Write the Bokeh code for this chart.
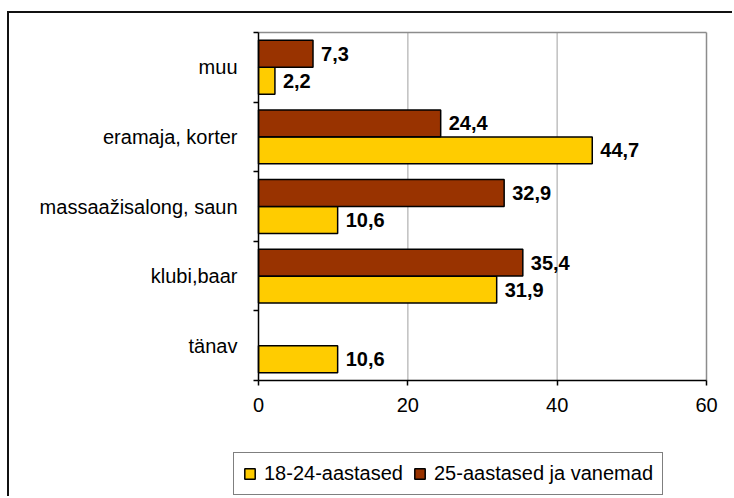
import numpy as np
from bokeh.plotting import figure
from bokeh.models import ColumnDataSource, FixedTicker, Legend, LegendItem
from bokeh.transform import dodge
from bokeh.core.properties import value
from bokeh.embed import file_html
from bokeh.resources import INLINE

# ---- data (top to bottom as in the chart) ----
categories = ["muu", "eramaja, korter", "massaažisalong, saun", "klubi,baar", "tänav"]
young = [2.2, 44.7, 10.6, 31.9, 10.6]          # 18-24-aastased
older = [7.3, 24.4, 32.9, 35.4, None]          # 25-aastased ja vanemad
series_names = ["18-24-aastased", "25-aastased ja vanemad"]
x_ticks = [0, 20, 40, 60]

FONT = "Liberation Sans"
YELLOW = "#FFCC00"
BROWN = "#993300"

n = len(categories)
ypos = [n - 1 - i for i in range(n)]  # top category highest
y_lo, y_hi = -0.5, n - 0.5
x_lo, x_hi = x_ticks[0], x_ticks[-1]

def fmt(v):
    return ("%.1f" % v).replace(".", ",")

src_y = ColumnDataSource(dict(y=ypos, v=young, lab=[fmt(v) for v in young]))
older_rows = [(y, v) for y, v in zip(ypos, older) if v is not None]
src_o = ColumnDataSource(dict(y=[r[0] for r in older_rows], v=[r[1] for r in older_rows],
                              lab=[fmt(r[1]) for r in older_rows]))

# ---- layout: the frame is the whole canvas; axes are placed inside it ----
W, H = 725, 485
PA_L, PA_R, PA_T, PA_B = 249, 697, 19, 367   # plot-area box in canvas pixels
ppx = (PA_R - PA_L) / (x_hi - x_lo)
ppy = (PA_B - PA_T) / (y_hi - y_lo)
x_range = (x_lo - PA_L / ppx, x_hi + (W - PA_R) / ppx)
y_range = (y_lo - (H - PA_B) / ppy, y_hi + PA_T / ppy)

p = figure(width=W, height=H, output_backend="svg", toolbar_location=None,
           x_range=x_range, y_range=y_range,
           min_border_left=0, min_border_right=0, min_border_top=0, min_border_bottom=0)
p.styles = {"border-top": "2px solid #111", "border-left": "2px solid #111",
            "margin-left": "7px", "margin-top": "11px"}

# grid lines and plot-area border, kept to the plot area
grid_x = x_ticks[1:-1]
p.segment(x0=grid_x, x1=grid_x, y0=[y_lo] * len(grid_x), y1=[y_hi] * len(grid_x),
          line_color="#c0c0c0", line_width=1.5)
p.segment(x0=[x_lo, x_hi], x1=[x_hi, x_hi], y0=[y_hi, y_lo], y1=[y_hi, y_hi],
          line_color="#8c8c8c", line_width=1.5)

BH = 0.387
OFF = 0.194
r_y = p.hbar(y=dodge("y", -OFF), right="v", left=0, height=BH, source=src_y,
             fill_color=YELLOW, line_color="black", line_width=1.5)
r_o = p.hbar(y=dodge("y", OFF), right="v", left=0, height=BH, source=src_o,
             fill_color=BROWN, line_color="black", line_width=1.5)

for src, off in ((src_y, -OFF), (src_o, OFF)):
    p.text(x="v", y=dodge("y", off), text="lab", source=src, x_offset=8,
           text_baseline="middle", text_align="left",
           text_font=value(FONT), text_font_size="20px", text_font_style="bold",
           text_color="black")

# x axis
xa = p.xaxis[0]
xa.fixed_location = y_lo
xa.bounds = (x_lo, x_hi)
xa.ticker = FixedTicker(ticks=x_ticks)
xa.axis_line_color = "black"
xa.axis_line_width = 1.5
xa.major_tick_line_color = "black"
xa.major_tick_line_width = 1.5
xa.major_tick_out = 5
xa.major_tick_in = 0
xa.minor_tick_line_color = None
xa.major_label_text_font = FONT
xa.major_label_text_font_size = "20px"
xa.major_label_text_color = "black"
xa.major_label_standoff = 12

# y axis: labels at centres, ticks at boundaries
ya = p.yaxis[0]
ya.fixed_location = x_lo
ya.bounds = (y_lo, y_hi)
ya.ticker = FixedTicker(ticks=ypos, minor_ticks=[i - 0.5 for i in range(n + 1)])
ya.major_label_overrides = {y: c for y, c in zip(ypos, categories)}
ya.axis_line_color = "black"
ya.axis_line_width = 1.5
ya.major_tick_line_color = None
ya.major_tick_out = 0
ya.major_tick_in = 0
ya.minor_tick_line_color = "black"
ya.minor_tick_line_width = 1.5
ya.minor_tick_out = 5
ya.minor_tick_in = 0
ya.major_label_text_font = FONT
ya.major_label_text_font_size = "20px"
ya.major_label_text_color = "black"
ya.major_label_standoff = 16

p.xgrid.grid_line_color = None
p.ygrid.grid_line_color = None
p.outline_line_color = None
p.background_fill_color = "white"
p.border_fill_color = "white"

legend = Legend(items=[LegendItem(label=series_names[0], renderers=[r_y]),
                       LegendItem(label=series_names[1], renderers=[r_o])],
                orientation="horizontal", location=(224, 3),
                label_text_font=FONT, label_text_font_size="20px", label_text_color="black",
                glyph_width=13, glyph_height=13, label_standoff=8, spacing=10,
                padding=9, margin=0, border_line_color="black", border_line_width=1.5,
                background_fill_color="white", background_fill_alpha=1)
p.add_layout(legend, "center")

open("out.html", "w").write(file_html(p, INLINE))
